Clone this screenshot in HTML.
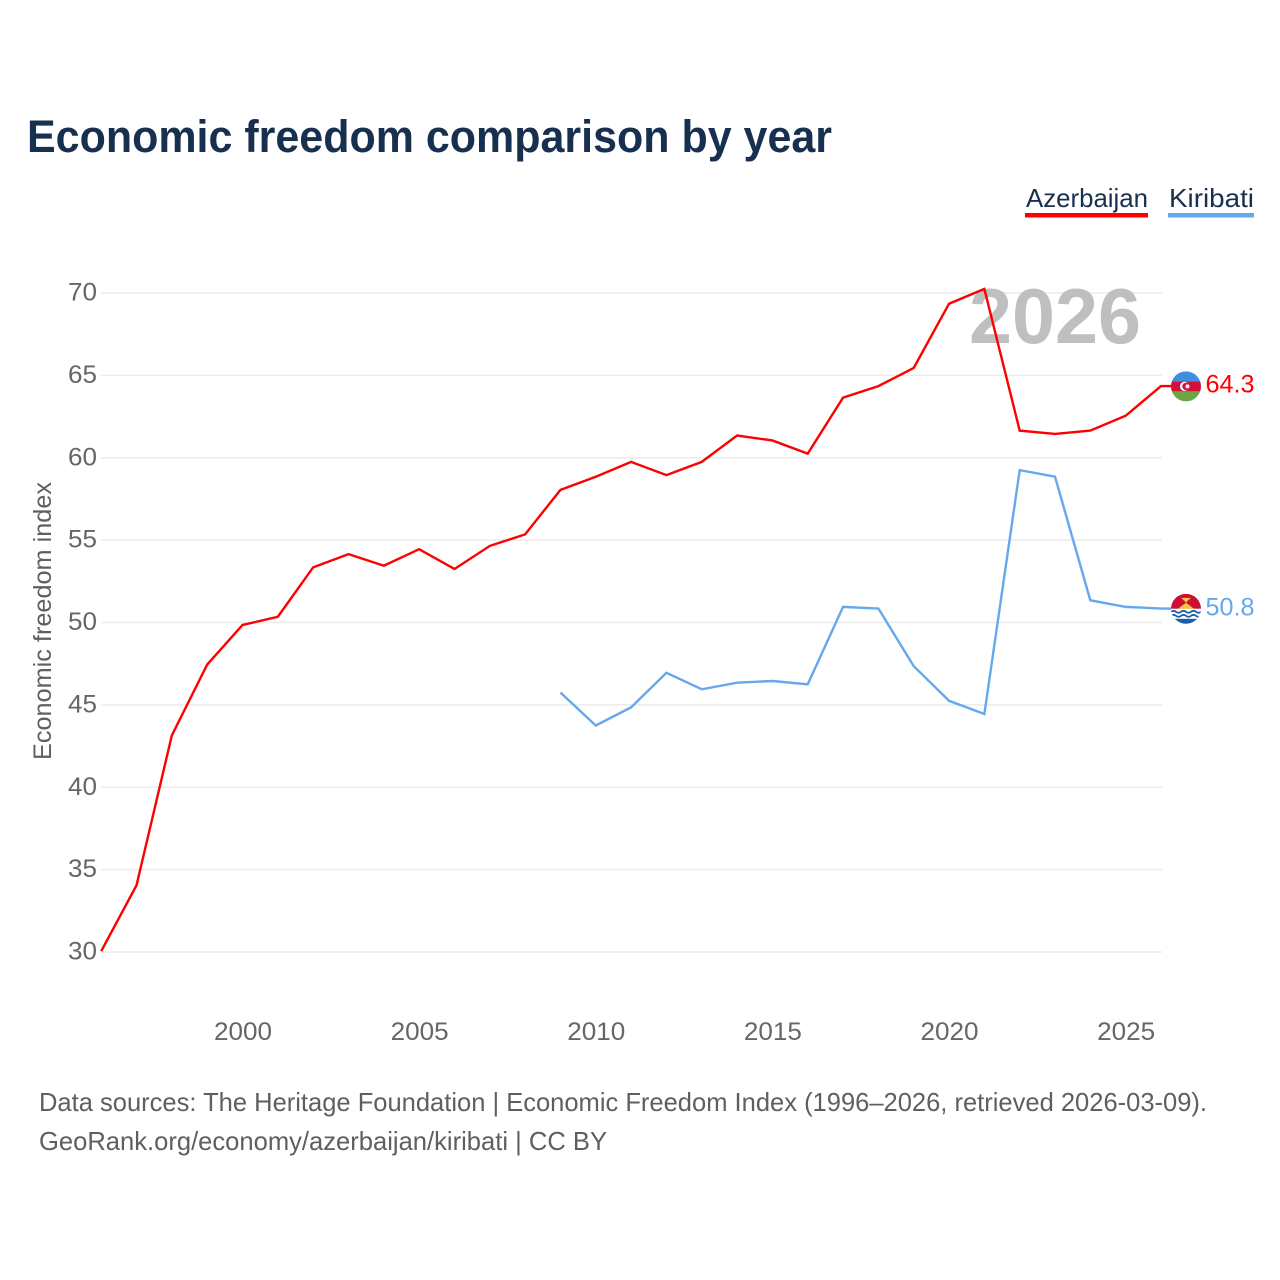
<!DOCTYPE html>
<html lang="en">
<head>
<meta charset="utf-8">
<title>Economic freedom comparison by year</title>
<style>
html,body{margin:0;padding:0;background:#fff;}
svg{display:block;font-family:"Liberation Sans",sans-serif;}
</style>
</head>
<body>
<svg id="chart" width="1280" height="1280" viewBox="0 0 1280 1280" xmlns="http://www.w3.org/2000/svg">
  <rect width="1280" height="1280" fill="#ffffff"/>
  <text x="27" y="152" font-size="45" font-weight="700" fill="#18304f" textLength="805" lengthAdjust="spacingAndGlyphs">Economic freedom comparison by year</text>

  <g>
    <text x="1026" y="207" font-size="26" fill="#18304f" textLength="122" lengthAdjust="spacingAndGlyphs">Azerbaijan</text>
    <rect x="1025" y="213" width="123" height="4.5" fill="#ff0000"/>
  </g>
  <g>
    <text x="1169" y="207" font-size="26" fill="#18304f" textLength="85" lengthAdjust="spacingAndGlyphs">Kiribati</text>
    <rect x="1168" y="213" width="86" height="4.5" fill="#64a8ed"/>
  </g>

  <g id="grid"></g>
  <g id="yticks"></g>
  <g id="xticks"></g>

  <text x="0" y="0" transform="translate(51 621) rotate(-90)" font-size="25" fill="#5f5f5f" text-anchor="middle" textLength="278" lengthAdjust="spacingAndGlyphs">Economic freedom index</text>

  <text x="969" y="343" font-size="78" font-weight="700" fill="#bfbfbf" textLength="172" lengthAdjust="spacingAndGlyphs">2026</text>

  <g id="series" transform="translate(-0.5 -0.8)"></g>
  <g id="endmarks"></g>

  <text x="39" y="1111" font-size="26" fill="#5f5f5f" textLength="1168" lengthAdjust="spacingAndGlyphs">Data sources: The Heritage Foundation | Economic Freedom Index (1996–2026, retrieved 2026-03-09).</text>
  <text x="39" y="1150" font-size="26" fill="#5f5f5f" textLength="568" lengthAdjust="spacingAndGlyphs">GeoRank.org/economy/azerbaijan/kiribati | CC BY</text>
</svg>
<script>
const years = [1996,1997,1998,1999,2000,2001,2002,2003,2004,2005,2006,2007,2008,2009,2010,2011,2012,2013,2014,2015,2016,2017,2018,2019,2020,2021,2022,2023,2024,2025,2026];
const azerbaijanValues = [30,34,43.1,47.4,49.8,50.3,53.3,54.1,53.4,54.4,53.2,54.6,55.3,58,58.8,59.7,58.9,59.7,61.3,61,60.2,63.6,64.3,65.4,69.3,70.2,61.6,61.4,61.6,62.5,64.3];
const kiribatiValues = [null,null,null,null,null,null,null,null,null,null,null,null,null,45.7,43.7,44.8,46.9,45.9,46.3,46.4,46.2,50.9,50.8,47.3,45.2,44.4,59.2,58.8,51.3,50.9,50.8];
const yTickValues = [30,35,40,45,50,55,60,65,70];
const xTickValues = [2000,2005,2010,2015,2020,2025];

const NS = 'http://www.w3.org/2000/svg';
function xScale(year){ return 101.7 + (year - 1996) * (1161.5 - 101.7) / 30; }
function yScale(v){ return 952 - (v - 30) * (952 - 293) / 40; }
function make(tag, attrs, parent){
  const el = document.createElementNS(NS, tag);
  for (const k in attrs) el.setAttribute(k, attrs[k]);
  parent.appendChild(el);
  return el;
}

const grid = document.getElementById('grid');
const yticks = document.getElementById('yticks');
const xticks = document.getElementById('xticks');
const series = document.getElementById('series');
const endmarks = document.getElementById('endmarks');

yTickValues.forEach(function(v){
  const line = make('line', {x1:101, x2:1162, y1:yScale(v), y2:yScale(v), stroke:'#ebebeb', 'stroke-width':1.5}, grid);
  
  
  const t = make('text', {x:97, y:yScale(v) + 7.5, 'font-size':25, fill:'#666666', 'text-anchor':'end', textLength:29, lengthAdjust:'spacingAndGlyphs'}, yticks);
  t.textContent = v;
  
  
});

xTickValues.forEach(function(y){
  const t = make('text', {x:xScale(y), y:1040, 'font-size':25, fill:'#666666', 'text-anchor':'middle', textLength:58, lengthAdjust:'spacingAndGlyphs'}, xticks);
  t.textContent = y;
  
  
});

function linePath(values){
  let d = '', pen = false, lastY = 0;
  values.forEach(function(v, i){
    if (v === null) { pen = false; return; }
    lastY = yScale(v);
    d += (pen ? 'L' : 'M') + xScale(years[i]).toFixed(2) + ' ' + lastY.toFixed(2);
    pen = true;
  });
  /* flat lead-in to the end-of-line flag */
  d += 'L1172 ' + lastY.toFixed(2);
  return d;
}

const azLine = make('path', {d:linePath(azerbaijanValues), fill:'none', stroke:'#ff0000', 'stroke-width':2.4, 'stroke-linejoin':'miter'}, series);



const kiLine = make('path', {d:linePath(kiribatiValues), fill:'none', stroke:'#64a8ed', 'stroke-width':2.4, 'stroke-linejoin':'miter'}, series);



/* Azerbaijan end marker */
const azLast = azerbaijanValues[azerbaijanValues.length - 1];
const azY = yScale(azLast);
const azG = make('g', {transform:'translate(1186 ' + (azY - 0.5) + ')'}, endmarks);


const azClip = make('clipPath', {id:'clip-az'}, azG);
make('circle', {cx:0, cy:0, r:15}, azClip);
const azFlag = make('g', {'clip-path':'url(#clip-az)'}, azG);
make('rect', {x:-15, y:-15, width:30, height:10, fill:'#3f8fe0'}, azFlag);
make('rect', {x:-15, y:-5, width:30, height:10, fill:'#d2103a'}, azFlag);
make('rect', {x:-15, y:5, width:30, height:10, fill:'#6da544'}, azFlag);
make('circle', {cx:-1.5, cy:0, r:4.6, fill:'#ffffff'}, azFlag);
make('circle', {cx:0, cy:0, r:3.7, fill:'#d2103a'}, azFlag);
make('circle', {cx:1.5, cy:0, r:2, fill:'#ffffff'}, azFlag);
const azText = make('text', {x:1205.5, y:azY + 5.5, 'font-size':25, fill:'#ff0000', textLength:49, lengthAdjust:'spacingAndGlyphs'}, endmarks);
azText.textContent = azLast.toFixed(1);



/* Kiribati end marker */
const kiLast = kiribatiValues[kiribatiValues.length - 1];
const kiY = yScale(kiLast);
const kiG = make('g', {transform:'translate(1186 ' + (kiY - 0.5) + ')'}, endmarks);


const kiClip = make('clipPath', {id:'clip-ki'}, kiG);
make('circle', {cx:0, cy:0, r:15}, kiClip);
const kiFlag = make('g', {'clip-path':'url(#clip-ki)'}, kiG);
make('rect', {x:-15, y:-15, width:30, height:15, fill:'#cc0f33'}, kiFlag);
make('path', {d:'M-8 0L-3 -4L0 -6L3 -4L8 0Z', fill:'#f5c542'}, kiFlag);
make('path', {d:'M-5 -11L5 -11L1.5 -8L0 -6L-1.5 -8Z', fill:'#f5c542'}, kiFlag);
make('rect', {x:-15, y:0, width:30, height:15, fill:'#ffffff'}, kiFlag);
make('path', {d:'M-15 3Q-12.5 1 -10 3T-5 3T0 3T5 3T10 3T15 3', fill:'none', stroke:'#1c5eab', 'stroke-width':1.8}, kiFlag);
make('path', {d:'M-15 7Q-12.5 5 -10 7T-5 7T0 7T5 7T10 7T15 7', fill:'none', stroke:'#1c5eab', 'stroke-width':1.8}, kiFlag);
make('rect', {x:-15, y:10, width:30, height:5, fill:'#1c5eab'}, kiFlag);
const kiText = make('text', {x:1205.5, y:kiY + 6, 'font-size':25, fill:'#64a8ed', textLength:49, lengthAdjust:'spacingAndGlyphs'}, endmarks);
kiText.textContent = kiLast.toFixed(1);


</script>
</body>
</html>
